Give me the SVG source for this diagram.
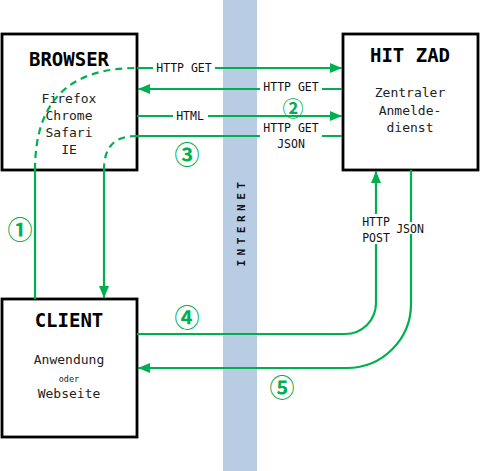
<svg xmlns="http://www.w3.org/2000/svg" width="480" height="471" viewBox="0 0 480 471">
<defs>
<marker id="ah" markerUnits="userSpaceOnUse" markerWidth="12" markerHeight="10" refX="12" refY="5" orient="auto">
<path d="M0,0 L12,5 L0,10 Z" fill="#00b050"/>
</marker>
</defs>
<style>
.box{fill:#fff;stroke:#000;stroke-width:2.8}
.ttl{font-family:"DejaVu Sans Mono","Liberation Mono",monospace;font-weight:bold;font-size:19px;text-anchor:middle;fill:#000}
.txt{font-family:"DejaVu Sans Mono","Liberation Mono",monospace;font-size:13px;text-anchor:middle;fill:#222}
.lbl{font-family:"DejaVu Sans Mono","Liberation Mono",monospace;font-size:11.5px;text-anchor:middle;fill:#111}
.ln{fill:none;stroke:#00b050;stroke-width:2.2}
.dash{stroke-dasharray:7,5}
.bg{fill:#fff}
.num{font-family:"Noto Sans CJK JP","DejaVu Sans",sans-serif;font-size:25px;font-weight:bold;text-anchor:middle;dominant-baseline:central;fill:#00b050}
</style>
<rect id="internet" x="223" y="0" width="34" height="471" fill="#b8cce4"/>
<text x="241" y="222" transform="rotate(-90 241 222)" style="font-family:'DejaVu Sans Mono',monospace;font-size:11px;font-weight:bold;letter-spacing:4.5px;text-anchor:middle;dominant-baseline:central;fill:#111">INTERNET</text>
<g id="browser">
<rect class="box" x="2" y="34" width="135" height="136"/>
<text class="ttl" x="69" y="66">BROWSER</text>
<text class="txt" x="69" y="103">Firefox</text>
<text class="txt" x="69" y="120">Chrome</text>
<text class="txt" x="69" y="137">Safari</text>
<text class="txt" x="69" y="154">IE</text>
</g>
<g id="hitzad">
<rect class="box" x="343" y="34" width="135" height="136"/>
<text class="ttl" x="410" y="62">HIT ZAD</text>
<text class="txt" x="410" y="97">Zentraler</text>
<text class="txt" x="410" y="115">Anmelde-</text>
<text class="txt" x="410" y="132">dienst</text>
</g>
<g id="client">
<rect class="box" x="2" y="299" width="135" height="138"/>
<text class="ttl" x="69" y="327">CLIENT</text>
<text class="txt" x="69" y="364">Anwendung</text>
<text class="txt" x="69" y="382" style="font-size:8.5px">oder</text>
<text class="txt" x="69" y="398">Webseite</text>
</g>
<g id="connectors">
<path class="ln" d="M35,299 L35,170"/>
<path class="ln dash" d="M35,170 C35,100 70,68 137,68"/>
<path class="ln" d="M137,68 L342,68" marker-end="url(#ah)"/>
<path class="ln" d="M342,89 L138,89" marker-end="url(#ah)"/>
<path class="ln" d="M137,116 L342,116" marker-end="url(#ah)"/>
<path class="ln" d="M342,136 L137,136"/>
<path class="ln dash" d="M137,136 C115,136 104,146 104,170"/>
<path class="ln" d="M104,170 L104,298" marker-end="url(#ah)"/>
<path class="ln" d="M137,334 L345,334 A31,31 0 0 0 376,303 L376,171" marker-end="url(#ah)"/>
<path class="ln" d="M411,170 L411,304 A64,64 0 0 1 347,368 L138,368" marker-end="url(#ah)"/>
<rect class="bg" x="153" y="62" width="62" height="12"/>
<text class="lbl" x="184" y="72">HTTP GET</text>
<rect class="bg" x="260" y="83" width="62" height="11"/>
<text class="lbl" x="291" y="90.5">HTTP GET</text>
<rect class="bg" x="173" y="110" width="35" height="12"/>
<text class="lbl" x="190" y="120">HTML</text>
<rect class="bg" x="260" y="130" width="62" height="12"/>
<text class="lbl" x="291" y="131.5">HTTP GET</text>
<text class="lbl" x="291" y="147.5">JSON</text>
<rect class="bg" x="362" y="214" width="28" height="30"/>
<text class="lbl" x="376" y="226">HTTP</text>
<text class="lbl" x="376" y="242">POST</text>
<rect class="bg" x="396" y="222" width="28" height="12"/>
<text class="lbl" x="410" y="233">JSON</text>
<text class="num" x="20" y="228">①</text>
<text class="num" x="293" y="106.5" style="font-size:21px">②</text>
<text class="num" x="187" y="153">③</text>
<text class="num" x="187" y="316">④</text>
<text class="num" x="282" y="386">⑤</text>
</g>
</svg>
